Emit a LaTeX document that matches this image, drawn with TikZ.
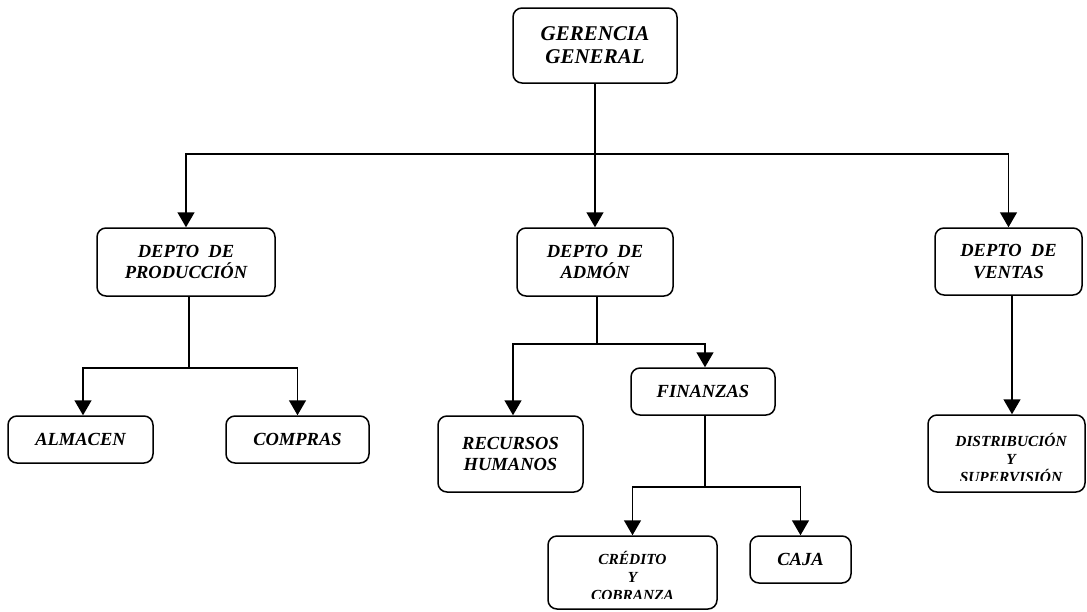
\documentclass[tikz,border=0pt]{standalone}
\usepackage{fontspec}
\setmainfont{Liberation Serif}
\usetikzlibrary{arrows.meta}
\begin{document}
\begin{tikzpicture}[x=1pt,y=-1pt,
  orgbox/.style={draw, line width=1.5pt, rounded corners=9pt, inner sep=0pt, align=center,
     font=\fontsize{18.5}{21.5}\selectfont\bfseries\itshape},
  topbox/.style={orgbox, font=\fontsize{21}{23}\selectfont\bfseries\itshape},
  smalltext/.style={inner sep=0pt, align=center, font=\fontsize{15.4}{18}\selectfont\bfseries\itshape},
  conn/.style={line width=1.5pt},
  arr/.style={conn, -{Triangle[width=17pt,length=15pt]}}]
\useasboundingbox (0,0) rectangle (1087,611);
% boxes
\node[topbox, minimum width=164pt, minimum height=75pt] (gerencia) at (595,45.5) {GERENCIA\\GENERAL};
\node[orgbox, minimum width=178pt, minimum height=68pt] (prod) at (186,262) {DEPTO\ \ DE\\PRODUCCIÓN};
\node[orgbox, minimum width=156pt, minimum height=68pt] (admon) at (595,262) {DEPTO\ \ DE\\ADMÓN};
\node[orgbox, minimum width=147pt, minimum height=67pt] (ventas) at (1008.5,261.5) {DEPTO\ \ DE\\VENTAS};
\node[orgbox, minimum width=145pt, minimum height=47pt] (almacen) at (80.5,439.5) {ALMACEN};
\node[orgbox, minimum width=143pt, minimum height=47pt] (compras) at (297.5,439.5) {COMPRAS};
\node[orgbox, minimum width=145pt, minimum height=76pt] (rrhh) at (510.5,454) {RECURSOS\\HUMANOS};
\node[orgbox, minimum width=144pt, minimum height=47pt] (finanzas) at (703,391.5) {FINANZAS};
\node[orgbox, minimum width=169pt, minimum height=73pt] (credito) at (632.5,572.5) {};
\node[orgbox, minimum width=101pt, minimum height=47pt] (caja) at (800.5,559.5) {CAJA};
\node[orgbox, minimum width=157pt, minimum height=77pt] (distrib) at (1006.5,453.5) {};
\begin{scope}
  \clip (548,536) rectangle (717,598.3);
  \node[smalltext] (creditotext) at (632.5,575.5) {CRÉDITO\\Y\\COBRANZA};
\end{scope}
\begin{scope}
  \clip (928,415) rectangle (1085,480.3);
  \node[smalltext] (distribtext) at (1011,458) {DISTRIBUCIÓN\\Y\\SUPERVISIÓN};
\end{scope}
% junctions
\coordinate (gj) at (595,154);
\coordinate (pj) at (189,368);
\coordinate (aj) at (597,344);
\coordinate (fj) at (705,487);
\coordinate (vx) at (1012,0);
% connectors
\draw[conn] (gerencia.south) -- (gj);
\draw[arr] (gj) -| (prod.north);
\draw[arr] (gj) -- (admon.north);
\draw[arr] (gj) -| (ventas.north);
\draw[conn] (prod.south -| pj) -- (pj);
\draw[arr] (pj) -| ([xshift=2.5pt]almacen.north);
\draw[arr] (pj) -| (compras.north);
\draw[conn] (admon.south -| aj) -- (aj);
\draw[arr] (aj) -| ([xshift=2.5pt]rrhh.north);
\draw[arr] (aj) -| ([xshift=2pt]finanzas.north);
\draw[conn] (finanzas.south -| fj) -- (fj);
\draw[arr] (fj) -| (credito.north);
\draw[arr] (fj) -| (caja.north);
\draw[arr] (ventas.south -| vx) -- (distrib.north -| vx);
\end{tikzpicture}
\end{document}
